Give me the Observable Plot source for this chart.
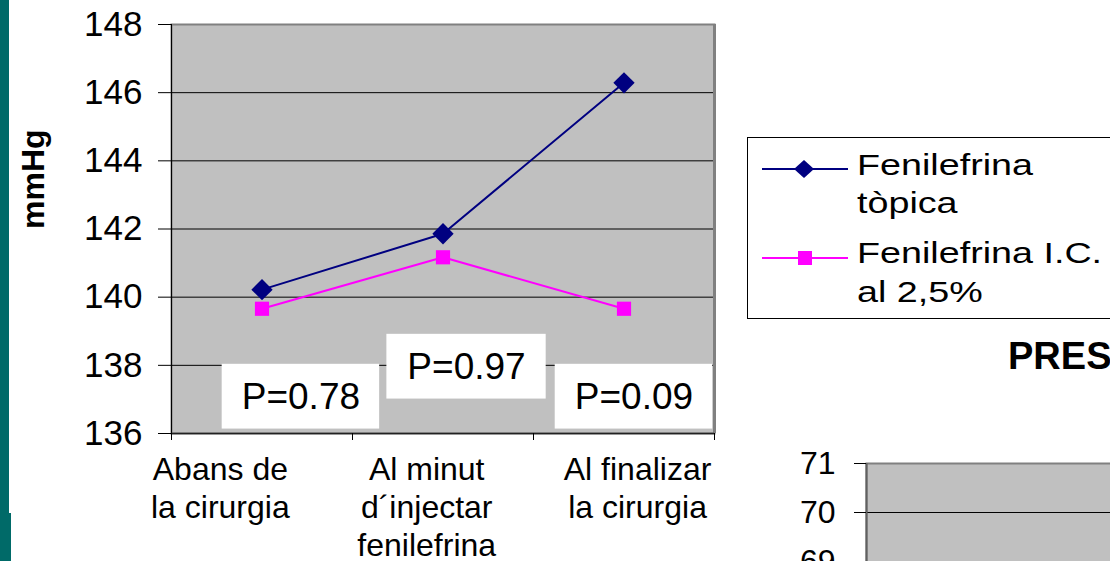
<!DOCTYPE html>
<html>
<head>
<meta charset="utf-8">
<script src="https://cdn.jsdelivr.net/npm/d3@7"></script>
<script src="https://cdn.jsdelivr.net/npm/@observablehq/plot@0.6"></script>
<style>
  html, body { margin: 0; padding: 0; background: #fff; }
  body { width: 1110px; height: 561px; overflow: hidden; position: relative; font-family: "Liberation Sans", Arial, sans-serif; }
  .abs { position: absolute; }
  #strip { left: 0; top: 0; width: 9px; height: 561px; background: #006a68; }
  #strip2 { left: 0; top: 513px; width: 11px; height: 48px; background: #006a68; }
  #main { left: 0; top: 0; width: 760px; }
  #legend { left: 747px; top: 137px; width: 363px; }
  #title2 { left: 1008px; top: 333px; font-size: 38px; font-weight: bold; color: #000; white-space: nowrap; line-height: 46px; }
  #second { left: 740px; top: 441px; width: 400px; }
  #main svg, #second svg { max-width: none !important; }
</style>
</head>
<body>
<div id="strip" class="abs"></div>
<div id="strip2" class="abs"></div>
<div id="main" class="abs"></div>
<div id="legend" class="abs"></div>
<div id="title2" class="abs">PRES</div>
<div id="second" class="abs"></div>
<script>
// ---- data ----
const categories = ["Abans de\nla cirurgia", "Al minut\nd´injectar\nfenilefrina", "Al finalizar\nla cirurgia"];
const seriesNames = ["Fenilefrina tòpica", "Fenilefrina I.C. al 2,5%"];
const topica = [140.22, 141.86, 146.29];
const ic25 = [139.66, 141.17, 139.66];
const pValues = ["P=0.78", "P=0.97", "P=0.09"];
const yTicks = [136, 138, 140, 142, 144, 146, 148];
const yTicks2 = [66, 67, 68, 69, 70, 71];

// ---- annotation layout (in data units) ----
const pBoxX1 = [0.28, 1.19, 2.12];
const pBoxX2 = [1.15, 2.07, 2.99];
const pBoxTop = [138.03, 138.91, 138.03];
const pBoxBottom = [136.13, 137.01, 136.13];
const labelX = [0.27, 1.41, 2.575];

const font = "Liberation Sans, Arial, sans-serif";
const navy = "#000080";
const magenta = "#ff00ff";

const pts = [
  ...topica.map((v, i) => ({s: seriesNames[0], x: i + 0.5, y: v})),
  ...ic25.map((v, i) => ({s: seriesNames[1], x: i + 0.5, y: v}))
];
const boxes = pValues.map((p, i) => ({p, x1: pBoxX1[i], x2: pBoxX2[i], y1: pBoxBottom[i], y2: pBoxTop[i]}));

const main = Plot.plot({
  width: 760, height: 561,
  marginLeft: 171, marginRight: 46, marginTop: 24, marginBottom: 128,
  style: {fontFamily: font, color: "#000", background: "transparent"},
  x: {type: "linear", domain: [0, 3], axis: null},
  y: {domain: [136, 148], axis: null},
  marks: [
    Plot.frame({fill: "#c0c0c0", stroke: "#808080", strokeWidth: 2}),
    Plot.ruleY([138, 140, 142, 144, 146], {stroke: "#000", strokeWidth: 1}),
    Plot.ruleX([3], {stroke: "#808080", strokeWidth: 3}),
    Plot.rect(boxes, {x1: "x1", x2: "x2", y1: "y1", y2: "y2", fill: "#fff"}),
    Plot.text(boxes, {x: d => (d.x1 + d.x2) / 2, y: d => (d.y1 + d.y2) / 2, text: "p", fontSize: 37, fill: "#000"}),
    Plot.ruleX([0], {stroke: "#000", strokeWidth: 1}),
    Plot.ruleY([136], {stroke: "#222", strokeWidth: 1.5}),
    Plot.axisY({ticks: yTicks, tickSize: 13, tickPadding: 16, fontSize: 35, stroke: "#000", tickFormat: d => String(d)}),
    Plot.axisX({ticks: [0, 1, 2, 3], tickSize: 7, tickFormat: () => "", stroke: "#000"}),
    Plot.text(categories, {x: (d, i) => labelX[i], frameAnchor: "bottom", lineAnchor: "top", dy: 20, lineHeight: 1.18, fontSize: 32, fill: "#000"}),
    Plot.text(["mmHg"], {frameAnchor: "left", rotate: -90, dx: -138, fontSize: 32, fontWeight: "bold", fill: "#000"}),
    Plot.line(pts, {x: "x", y: "y", z: "s", stroke: "s", strokeWidth: 2}),
    Plot.dot(pts.filter(d => d.s === seriesNames[0]), {x: "x", y: "y", symbol: "square", rotate: 45, r: 8.5, fill: navy, stroke: "none"}),
    Plot.dot(pts.filter(d => d.s === seriesNames[1]), {x: "x", y: "y", symbol: "square", r: 8, fill: magenta, stroke: "none"})
  ],
  color: {domain: seriesNames, range: [navy, magenta]}
});
document.getElementById("main").appendChild(main);

// ---- legend ----
const lg = d3.create("svg").attr("width", 363).attr("height", 182).style("font-family", font);
lg.append("rect").attr("x", 0.5).attr("y", 0.5).attr("width", 400).attr("height", 181).attr("fill", "#fff").attr("stroke", "#000");
const rows = [
  {color: navy, y: 32, lines: ["Fenilefrina", "tòpica"], base: [38, 76], sym: "diamond"},
  {color: magenta, y: 121, lines: ["Fenilefrina I.C.", "al 2,5%"], base: [126, 165], sym: "square"}
];
rows.forEach(r => {
  lg.append("line").attr("x1", 15).attr("x2", 101).attr("y1", r.y).attr("y2", r.y).attr("stroke", r.color).attr("stroke-width", 2);
  if (r.sym === "diamond") {
    lg.append("path").attr("d", "M57," + (r.y - 9) + "L67," + r.y + "L57," + (r.y + 9) + "L47," + r.y + "Z").attr("fill", r.color);
  } else {
    lg.append("rect").attr("x", 51).attr("y", r.y - 7).attr("width", 14).attr("height", 14).attr("fill", r.color);
  }
  const g = lg.append("g").attr("transform", "translate(110,0) scale(1.3,1)");
  r.lines.forEach((t, j) => {
    g.append("text").attr("x", 0).attr("y", r.base[j]).attr("font-size", 29).attr("fill", "#000").text(t);
  });
});
document.getElementById("legend").appendChild(lg.node());

// ---- second chart (partially visible) ----
const second = Plot.plot({
  width: 400, height: 300,
  marginLeft: 126, marginRight: 0, marginTop: 22, marginBottom: 33,
  style: {fontFamily: font, color: "#000", background: "transparent"},
  x: {domain: [0, 1], axis: null},
  y: {domain: [66, 71], axis: null},
  marks: [
    Plot.frame({fill: "#c0c0c0", stroke: "#808080", strokeWidth: 2}),
    Plot.ruleY([67, 68, 69, 70], {stroke: "#000", strokeWidth: 1}),
    Plot.ruleX([0], {stroke: "#606060", strokeWidth: 2}),
    Plot.axisY({ticks: yTicks2, tickSize: 12, tickPadding: 19, fontSize: 32, stroke: "#000", tickFormat: d => String(d)})
  ]
});
document.getElementById("second").appendChild(second);
</script>
</body>
</html>
